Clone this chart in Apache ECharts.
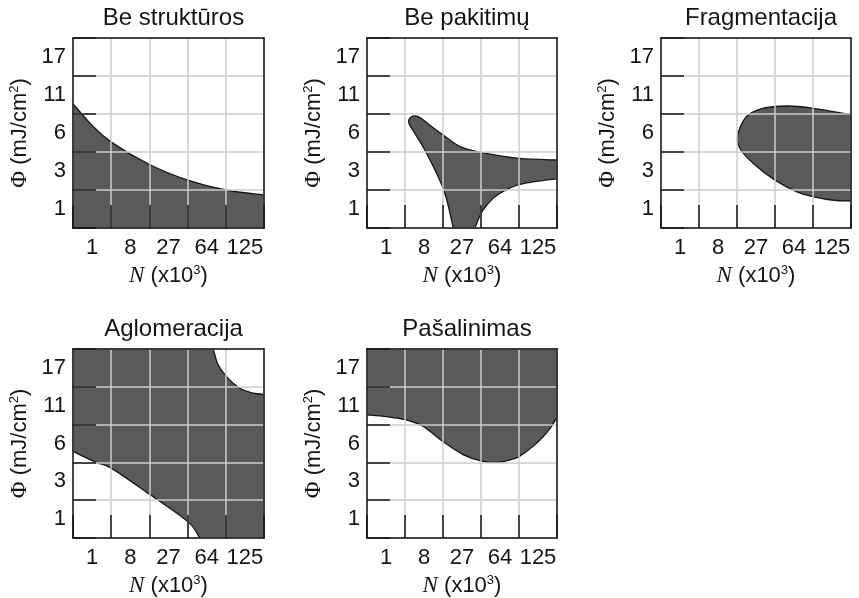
<!DOCTYPE html>
<html><head><meta charset="utf-8">
<script src="https://cdn.jsdelivr.net/npm/echarts@6/dist/echarts.min.js"></script>
<style>html,body{margin:0;padding:0;background:#fff}#c{width:859px;height:598px}</style>
</head><body><div id="c"></div>
<script>
// ---- data ----
const xTickLabels = ['1', '8', '27', '64', '125'];
const yTickLabels = ['1', '3', '6', '11', '17'];
const panelTitles = ['Be struktūros', 'Be pakitimų', 'Fragmentacija', 'Aglomeracija', 'Pašalinimas'];
// region boundaries, in cell units (x: 0..5 over the N cells, y: 0..5 over the Φ cells)
const beStrukturosEdge = [[0, 3.27], [0.5, 2.70], [1, 2.26], [2, 1.67], [3, 1.26], [4, 1.0], [5, 0.87]];
const bePakitimuUpper = [[2.27, 0], [2.02, 1.0], [1.55, 2.0], [1.26, 2.49], [1.10, 2.77], [1.16, 2.92], [1.35, 2.93], [1.65, 2.71], [2.0, 2.45], [2.45, 2.14], [3.0, 1.99], [4.0, 1.83], [5.0, 1.79]];
const bePakitimuLower = [[5.0, 1.30], [4.0, 1.14], [3.42, 0.86], [3.15, 0.6], [3.0, 0.38], [2.84, 0]];
const fragmentacijaEdge = [[5.0, 2.98], [4.54, 3.06], [4.02, 3.15], [3.31, 3.21], [2.61, 3.13], [2.22, 2.90], [2.01, 2.40], [2.10, 2.06], [2.43, 1.70], [3.0, 1.26], [3.58, 0.95], [4.02, 0.82], [4.54, 0.73], [5.0, 0.71]];
const aglomeracijaLower = [[0, 2.29], [0.61, 2.0], [1, 1.85], [2, 1.16], [3, 0.44], [3.32, 0]];
const aglomeracijaUpper = [[5.0, 3.80], [4.72, 3.83], [4.37, 3.96], [4.02, 4.27], [3.80, 4.58], [3.67, 5.0]];
const pasalinimasEdge = [[0, 3.26], [0.51, 3.21], [1.0, 3.13], [1.48, 2.95], [2.0, 2.55], [2.54, 2.20], [3.0, 2.04], [3.42, 2.0], [3.77, 2.07], [4.01, 2.16], [4.47, 2.51], [4.82, 2.9], [5.0, 3.2]];
const axisMin = 0, axisMax = 5;

// regions: pieces joined by straight lines, smooth pieces drawn as splines
const regions = [
  [{ smooth: true, pts: beStrukturosEdge }, { smooth: false, pts: [[axisMax, axisMin], [axisMin, axisMin]] }],
  [{ smooth: true, pts: bePakitimuUpper }, { smooth: true, pts: bePakitimuLower }],
  [{ smooth: true, pts: fragmentacijaEdge }],
  [{ smooth: true, pts: aglomeracijaLower }, { smooth: false, pts: [[axisMax, axisMin]] },
   { smooth: true, pts: aglomeracijaUpper }, { smooth: false, pts: [[axisMin, axisMax]] }],
  [{ smooth: true, pts: pasalinimasEdge }, { smooth: false, pts: [[axisMax, axisMax], [axisMin, axisMax]] }]
];

// ---- layout ----
const boxes = [
  { l: 73, t: 38, w: 191, h: 190 },
  { l: 367, t: 38, w: 190, h: 190 },
  { l: 661, t: 38, w: 190, h: 190 },
  { l: 73, t: 349, w: 191, h: 189 },
  { l: 367, t: 349, w: 190, h: 189 }
];
const FONT = 'Liberation Sans, Arial, sans-serif';
const SERIF = 'Liberation Serif, Times New Roman, serif';
const INK = '#151515';
const FILL = '#5a5a5a';
const GRIDC = '#cdcdcd';

function buildPath(pieces, api) {
  let d = '';
  pieces.forEach((pc, k) => {
    const p = pc.pts.map(v => api.coord(v));
    d += (k === 0 ? 'M' : 'L') + p[0][0].toFixed(2) + ' ' + p[0][1].toFixed(2);
    if (pc.smooth) {
      for (let i = 0; i < p.length - 1; i++) {
        const p0 = p[i - 1] || p[i], p1 = p[i], p2 = p[i + 1], p3 = p[i + 2] || p[i + 1];
        const c1 = [p1[0] + (p2[0] - p0[0]) / 6, p1[1] + (p2[1] - p0[1]) / 6];
        const c2 = [p2[0] - (p3[0] - p1[0]) / 6, p2[1] - (p3[1] - p1[1]) / 6];
        d += 'C' + c1[0].toFixed(2) + ' ' + c1[1].toFixed(2) + ' ' + c2[0].toFixed(2) + ' ' + c2[1].toFixed(2) + ' ' + p2[0].toFixed(2) + ' ' + p2[1].toFixed(2);
      }
    } else {
      for (let i = 1; i < p.length; i++) d += 'L' + p[i][0].toFixed(2) + ' ' + p[i][1].toFixed(2);
    }
  });
  return d + 'Z';
}

const grid = [], xAxis = [], yAxis = [], series = [], title = [];
boxes.forEach((b, i) => {
  grid.push({ left: b.l, top: b.t, width: b.w, height: b.h, show: false });
  title.push({
    text: panelTitles[i], left: b.l + b.w / 2, top: b.t - 37, textAlign: 'center',
    textStyle: { fontSize: 24, fontWeight: 'normal', color: INK, fontFamily: FONT }
  });
  const line = { show: true, lineStyle: { color: INK, width: 1.5 } };
  // grid lines
  xAxis.push({ type: 'value', gridIndex: i, min: axisMin, max: axisMax, interval: 1,
    axisLine: { show: false }, axisTick: { show: false }, axisLabel: { show: false },
    splitLine: { show: true, lineStyle: { color: GRIDC, width: 1.5 } }, z: 3 });
  // labels + ticks
  xAxis.push({ type: 'category', gridIndex: i, data: xTickLabels, boundaryGap: true, position: 'bottom',
    axisLine: line,
    axisTick: { show: true, inside: true, length: 23, interval: 0, lineStyle: { color: INK, width: 1.5 } },
    axisLabel: { interval: 0, margin: 9, fontSize: 22, color: INK, fontFamily: FONT },
    splitLine: { show: false },
    name: '{n|N} (x10{s|3})', nameLocation: 'middle', nameGap: 36,
    nameTextStyle: { fontSize: 22, color: INK, fontFamily: FONT,
      rich: { n: { fontSize: 23, fontFamily: SERIF, fontStyle: 'italic', color: INK },
              s: { fontSize: 13, fontFamily: FONT, color: INK, verticalAlign: 'top' } } },
    z: 4 });
  // top border
  xAxis.push({ type: 'value', gridIndex: i, position: 'top', min: axisMin, max: axisMax,
    axisLine: line, axisTick: { show: false }, axisLabel: { show: false }, splitLine: { show: false }, z: 4 });

  yAxis.push({ type: 'value', gridIndex: i, min: axisMin, max: axisMax, interval: 1,
    axisLine: { show: false }, axisTick: { show: false }, axisLabel: { show: false },
    splitLine: { show: true, lineStyle: { color: GRIDC, width: 1.5 } }, z: 3 });
  yAxis.push({ type: 'category', gridIndex: i, data: yTickLabels, boundaryGap: true, position: 'left',
    axisLine: line,
    axisTick: { show: true, inside: true, length: 23, interval: 0, lineStyle: { color: INK, width: 1.5 } },
    axisLabel: { interval: 0, margin: 7, fontSize: 22, color: INK, fontFamily: FONT },
    splitLine: { show: false },
    name: '{p|Φ} (mJ/cm{s|2})', nameLocation: 'middle', nameGap: 42,
    nameTextStyle: { fontSize: 22, color: INK, fontFamily: FONT,
      rich: { p: { fontSize: 23, fontFamily: SERIF, color: INK },
              s: { fontSize: 13, fontFamily: FONT, color: INK, verticalAlign: 'top' } } },
    z: 4 });
  yAxis.push({ type: 'value', gridIndex: i, position: 'right', min: axisMin, max: axisMax,
    axisLine: line, axisTick: { show: false }, axisLabel: { show: false }, splitLine: { show: false }, z: 4 });

  const pieces = regions[i];
  series.push({
    type: 'custom', xAxisIndex: 3 * i, yAxisIndex: 3 * i, z: 1, silent: true,
    data: pieces[0].pts,
    renderItem: function (params, api) {
      if (params.dataIndex !== 0) return;
      return { type: 'path', shape: { pathData: buildPath(pieces, api) },
        style: { fill: FILL, stroke: INK, lineWidth: 1.3 } };
    }
  });
});

const chart = echarts.init(document.getElementById('c'), null, { renderer: 'canvas' });
chart.setOption({ animation: false, backgroundColor: '#fff', title, grid, xAxis, yAxis, series });
</script></body></html>
